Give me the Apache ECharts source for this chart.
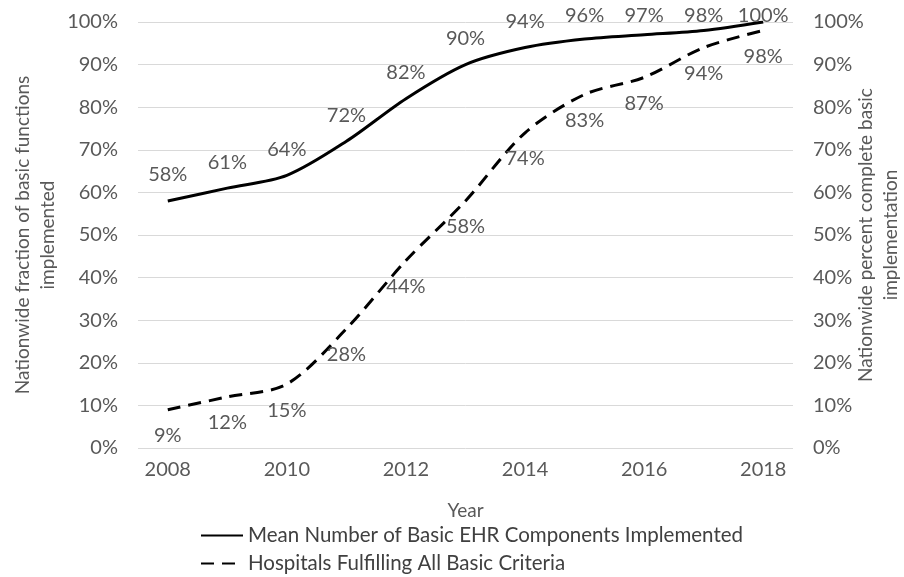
<!DOCTYPE html>
<html>
<head>
<meta charset="utf-8">
<script src="https://cdn.jsdelivr.net/npm/echarts@6/dist/echarts.min.js"></script>
<style>
  html, body { margin: 0; padding: 0; background: #fff; }
  #chart { width: 904px; height: 577px; }
</style>
</head>
<body>
<div id="chart"></div>
<script>
// Years on the category axis
const years = ['2008', '2009', '2010', '2011', '2012', '2013', '2014', '2015', '2016', '2017', '2018'];
// Mean number of basic EHR components implemented (percent)
const meanComponents = [58, 61, 64, 72, 82, 90, 94, 96, 97, 98, 100];
// Hospitals fulfilling all basic criteria (percent)
const allCriteria = [9, 12, 15, 28, 44, 58, 74, 83, 87, 94, 98];

const seriesNames = ['Mean Number of Basic EHR Components Implemented', 'Hospitals Fulfilling All Basic Criteria'];

const FONT = 'Lato';
const TXT = '#595959';
const LABEL_TOP_LIMIT = 6;

const chart = echarts.init(document.getElementById('chart'), null, { renderer: 'canvas' });

const pctAxis = (pos, name, gap) => ({
  type: 'value',
  position: pos,
  min: 0,
  max: 100,
  interval: 10,
  name: name,
  nameLocation: 'middle',
  nameRotate: 90,
  nameGap: gap,
  nameMoveOverlap: false,
  nameTextStyle: { color: TXT, fontFamily: FONT, fontSize: 19, lineHeight: 25 },
  axisLine: { show: false },
  axisTick: { show: false },
  axisLabel: { color: TXT, fontFamily: FONT, fontSize: 20, margin: 20, formatter: '{value}%' },
  splitLine: { show: pos === 'left', lineStyle: { color: '#d9d9d9', width: 1 } }
});

const legendRow = (name, top) => ({
  data: [name],
  left: 195, top: top,
  itemWidth: 42, itemHeight: 14,
  itemStyle: { color: 'transparent', borderWidth: 0 },
  textStyle: { color: '#404040', fontFamily: FONT, fontSize: 20.5 }
});

const labelStyle = {
  show: true,
  color: TXT, fontFamily: FONT, fontSize: 20,
  formatter: p => p.value + '%'
};

chart.setOption({
  animation: false,
  backgroundColor: '#ffffff',
  grid: { left: 138, right: 111, top: 22, bottom: 129, containLabel: false, outerBoundsMode: 'none' },
  xAxis: {
    type: 'category',
    data: years,
    boundaryGap: true,
    name: 'Year',
    nameLocation: 'middle',
    nameGap: 53,
    nameMoveOverlap: false,
    nameTextStyle: { color: TXT, fontFamily: FONT, fontSize: 19 },
    axisLine: { show: false },
    axisTick: { show: false },
    axisLabel: { color: TXT, fontFamily: FONT, fontSize: 20, margin: 12, interval: 1 }
  },
  yAxis: [
    pctAxis('left', 'Nationwide fraction of basic functions\nimplemented', 78),
    pctAxis('right', 'Nationwide percent complete basic\nimplementation', 60)
  ],
  legend: [legendRow(seriesNames[0], 520), legendRow(seriesNames[1], 548)],
  series: [
    {
      name: seriesNames[0],
      type: 'line',
      data: meanComponents,
      smooth: 0.3,
      symbol: 'circle',
      symbolSize: 0,
      lineStyle: { color: '#000', width: 3 },
      itemStyle: { color: '#000' },
      label: Object.assign({ position: 'top', distance: 16 }, labelStyle),
      labelLayout: p => ({ dy: Math.max(0, LABEL_TOP_LIMIT - p.labelRect.y) })
    },
    {
      name: seriesNames[1],
      type: 'line',
      data: allCriteria,
      smooth: 0.3,
      symbol: 'circle',
      symbolSize: 0,
      lineStyle: { color: '#000', width: 3, type: [13, 8] },
      itemStyle: { color: '#000' },
      label: Object.assign({ position: 'bottom', distance: 16 }, labelStyle)
    }
  ]
});
</script>
</body>
</html>
